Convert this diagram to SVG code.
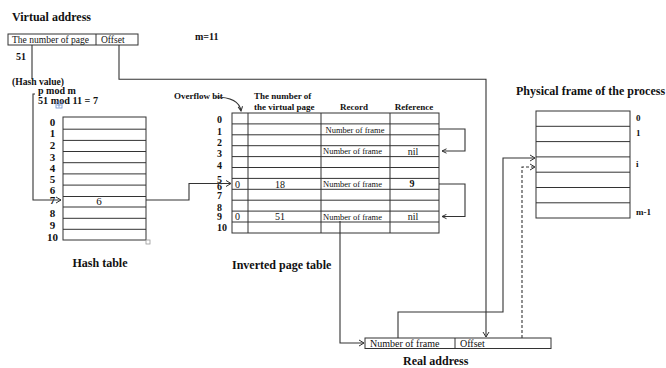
<svg xmlns="http://www.w3.org/2000/svg" width="666" height="368" viewBox="0 0 666 368">
<style>
.t{font-family:"Liberation Serif","Times New Roman",serif;fill:#111}
.b{font-weight:bold}
.box{fill:none;stroke:#333;stroke-width:1}
.ln{fill:none;stroke:#333;stroke-width:1}
.c{fill:none;stroke:#333;stroke-width:1.1}
.d{stroke-dasharray:3,2}
</style>
<defs>
<marker id="chev" markerWidth="8" markerHeight="8" refX="6" refY="4" orient="auto" markerUnits="userSpaceOnUse">
<path d="M1,1 L6,4 L1,7" fill="none" stroke="#333" stroke-width="1"/>
</marker>
<marker id="sm" markerWidth="6" markerHeight="6" refX="5" refY="3" orient="auto" markerUnits="userSpaceOnUse">
<path d="M0.5,0.8 L5,3 L0.5,5.2" fill="none" stroke="#333" stroke-width="1"/>
</marker>
</defs>
<rect width="666" height="368" fill="#fff"/>

<g id="virtual-address">
<text class="t b" x="12" y="21" font-size="12">Virtual address</text>
<rect class="box" x="8" y="34" width="130" height="11"/>
<line class="ln" x1="96" y1="34" x2="96" y2="45"/>
<text class="t" x="12" y="43" font-size="9.5" textLength="77" lengthAdjust="spacingAndGlyphs">The number of page</text>
<text class="t" x="101" y="43" font-size="9.5">Offset</text>
<text class="t b" x="16" y="60" font-size="10">51</text>
<text class="t b" x="195" y="40" font-size="10">m=11</text>
</g>

<g id="hash-value">
<text class="t b" x="12" y="85" font-size="10" textLength="52" lengthAdjust="spacingAndGlyphs">(Hash value)</text>
<text class="t b" x="38" y="94" font-size="10">p mod m</text>
<text class="t b" x="38" y="104" font-size="10" textLength="60" lengthAdjust="spacingAndGlyphs">51 mod 11 = 7</text>
<g stroke="#6a8fd0" stroke-width="0.8" fill="none">
<rect x="56" y="102" width="6" height="6"/>
<path d="M59,102.5 V107.5 M56.5,105 H61.5"/>
</g>
</g>

<g id="hash-table">
<rect class="box" x="63" y="117" width="83" height="123"/>
<path class="ln" d="M63,129.2H146M63,140.4H146M63,151.5H146M63,162.7H146M63,173.9H146M63,185.1H146M63,196.5H146M63,207H146M63,218.3H146M63,229.3H146"/>
<g class="t b" font-size="11" text-anchor="middle">
<text x="52.5" y="126">0</text>
<text x="52.5" y="137">1</text>
<text x="52.5" y="149">2</text>
<text x="52.5" y="160.5">3</text>
<text x="52.5" y="172">4</text>
<text x="52.5" y="183">5</text>
<text x="52.5" y="194">6</text>
<text x="52.5" y="204">7</text>
<text x="52.5" y="217">8</text>
<text x="52.5" y="229">9</text>
<text x="52.5" y="240.5">10</text>
</g>
<text class="t" x="99" y="205" font-size="11" text-anchor="middle">6</text>
<rect x="146" y="240" width="4" height="4" fill="#fff" stroke="#999" stroke-width="0.8"/>
<text class="t b" x="100" y="267" font-size="12" text-anchor="middle">Hash table</text>
</g>

<g id="inverted-table">
<text class="t b" x="174" y="99" font-size="9">Overflow bit</text>
<text class="t b" x="254" y="99" font-size="9">The number of</text>
<text class="t b" x="254" y="110" font-size="9">the virtual page</text>
<text class="t b" x="354" y="110" font-size="9" text-anchor="middle">Record</text>
<text class="t b" x="414" y="110" font-size="9" text-anchor="middle">Reference</text>
<rect class="box" x="232" y="113" width="207" height="120"/>
<path class="ln" d="M248,113V233M321,113V233M390,113V233"/>
<path class="ln" d="M232,123.9H439M232,134.8H439M232,145.7H439M232,156.6H439M232,167.5H439M232,178.4H439M232,189.3H439M232,200.2H439M232,211.1H439M232,222H439"/>
<g class="t b" font-size="10">
<text x="217" y="123">0</text>
<text x="217" y="134.5">1</text>
<text x="217" y="145.5">2</text>
<text x="217" y="156.5">3</text>
<text x="217" y="168.5">4</text>
<text x="217" y="182.5">5</text>
<text x="217" y="189.5">6</text>
<text x="217" y="198.5">7</text>
<text x="217" y="210.5">8</text>
<text x="217" y="219.5">9</text>
<text x="217" y="230.5">10</text>
</g>
<g class="t" font-size="8.5">
<text x="325.5" y="132.5">Number of frame</text>
<text x="323" y="154.3">Number of frame</text>
<text x="323" y="187">Number of frame</text>
<text x="323" y="219.7">Number of frame</text>
</g>
<g class="t" font-size="10">
<text x="413" y="154.5" text-anchor="middle">nil</text>
<text x="413" y="220" text-anchor="middle">nil</text>
<text x="235" y="187.5">0</text>
<text x="280" y="187.5" text-anchor="middle">18</text>
<text x="235" y="220">0</text>
<text x="280" y="220" text-anchor="middle">51</text>
</g>
<text class="t b" x="412" y="187" font-size="10" text-anchor="middle">9</text>
<text class="t b" x="232" y="269" font-size="12">Inverted page table</text>
</g>

<g id="physical-frame">
<text class="t b" x="516" y="95" font-size="12">Physical frame of the process</text>
<rect class="box" x="536" y="111" width="94" height="107"/>
<path class="ln" d="M536,126.3H630M536,141.6H630M536,156.9H630M536,172.2H630M536,187.5H630M536,202.8H630"/>
<g class="t b" font-size="9">
<text x="636" y="121">0</text>
<text x="636" y="136">1</text>
<text x="636" y="167">i</text>
<text x="636" y="215">m-1</text>
</g>
</g>

<g id="real-address">
<rect class="box" x="365" y="338" width="186" height="10.5"/>
<line class="ln" x1="455" y1="338" x2="455" y2="348.5"/>
<text class="t" x="370" y="346.5" font-size="10">Number of frame</text>
<text class="t" x="460" y="346.5" font-size="10">Offset</text>
<text class="t b" x="403" y="365" font-size="12">Real address</text>
</g>

<g id="connectors">
<path class="c" d="M32,45V79"/>
<path class="c" d="M35,94H33V200H61" marker-end="url(#chev)"/>
<path class="c" d="M146,200H189V183.5H231" marker-end="url(#chev)"/>
<path class="c" d="M119,45V79.3H486V337" marker-end="url(#chev)"/>
<path class="c" d="M439,129H465V151H442" marker-end="url(#sm)"/>
<path class="c" d="M439,184H465V216.5H442" marker-end="url(#sm)"/>
<path class="c" d="M340,221V343H364" marker-end="url(#chev)"/>
<path class="c" d="M398,338V312H503V158H535" marker-end="url(#chev)"/>
<path class="c d" d="M522,338V167H535" marker-end="url(#chev)"/>
<path class="c" d="M215,97Q239,97 241,111" marker-end="url(#sm)"/>
</g>
</svg>
